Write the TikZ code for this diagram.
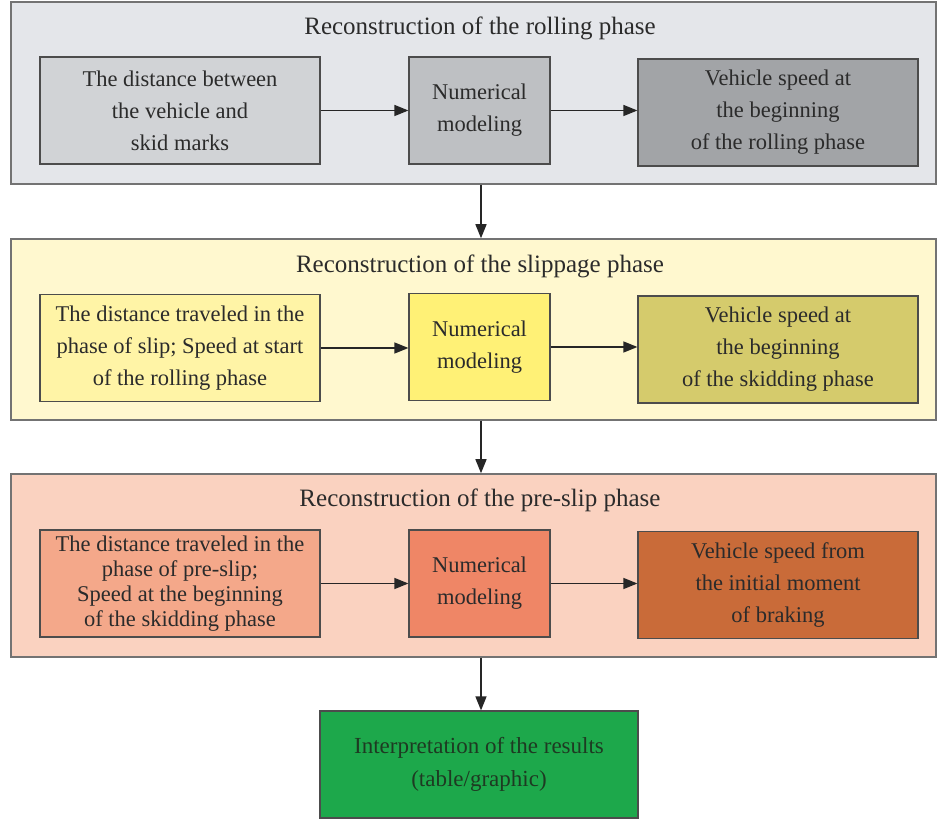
\documentclass[tikz,border=0pt]{standalone}
\usepackage{fontspec}
\setmainfont{Liberation Serif}
\usetikzlibrary{arrows.meta}
\definecolor{txt}{HTML}{2B2B2B}
\definecolor{pA}{HTML}{E4E6EA}
\definecolor{aA}{HTML}{D1D3D6}
\definecolor{aB}{HTML}{BEC0C3}
\definecolor{aC}{HTML}{A2A4A7}
\definecolor{pB}{HTML}{FFF8CF}
\definecolor{bA}{HTML}{FFF4A6}
\definecolor{bB}{HTML}{FFF176}
\definecolor{bC}{HTML}{D5CB6C}
\definecolor{pC}{HTML}{FAD2C0}
\definecolor{cA}{HTML}{F4A88A}
\definecolor{cB}{HTML}{EF8666}
\definecolor{cC}{HTML}{C96B39}
\definecolor{gr}{HTML}{1DA84B}
\definecolor{grt}{HTML}{1E3A22}
\tikzset{
  panel/.style={draw=black!55, line width=1.5pt, inner sep=0pt},
  wide/.style={draw=black!70, line width=1.2pt, minimum width=280pt, minimum height=107pt, align=center, text=txt, font=\fontsize{22.5}{32}\selectfont, inner sep=0pt},
  narrow/.style={wide, minimum width=141pt},
  ttl/.style={text=txt, font=\fontsize{25}{30}\selectfont},
  arr/.style={draw=black!85, line width=1.4pt, -{Triangle[length=14pt,width=11pt]}}
}
\begin{document}
\begin{tikzpicture}[x=1pt,y=1pt]
\useasboundingbox[fill=white] (0,0) rectangle (938,823);
% panels
\node[panel, fill=pA, minimum width=925pt, minimum height=182pt] (p1) at (473.5,730) {};
\node[panel, fill=pB, minimum width=925pt, minimum height=181pt] (p2) at (473.5,493.5) {};
\node[panel, fill=pC, minimum width=925pt, minimum height=183pt] (p3) at (473.5,257.5) {};
% titles
\node[ttl] (t1) at (480,795) {Reconstruction of the rolling phase};
\node[ttl] (t2) at (480,557) {Reconstruction of the slippage phase};
\node[ttl] (t3) at (480,323) {Reconstruction of the pre-slip phase};
% row 1
\node[wide, fill=aA] (a1) at (180,712.5) {The distance between\\the vehicle and\\skid marks};
\node[narrow, fill=aB] (a2) at (479.5,712.5) {Numerical\\modeling};
\node[wide, fill=aC] (a3) at (778,710.5) {Vehicle speed at\\the beginning\\of the rolling phase};
% row 2
\node[wide, fill=bA] (b1) at (180,475) {The distance traveled in the\\phase of slip; Speed at start\\of the rolling phase};
\node[narrow, fill=bB] (b2) at (479.5,476) {Numerical\\modeling};
\node[wide, fill=bC] (b3) at (778,473.5) {Vehicle speed at\\the beginning\\of the skidding phase};
% row 3
\node[wide, fill=cA, font=\fontsize{22.5}{25}\selectfont] (c1) at (180,239.5) {The distance traveled in the\\phase of pre-slip;\\Speed at the beginning\\of the skidding phase};
\node[narrow, fill=cB] (c2) at (479.5,239.5) {Numerical\\modeling};
\node[wide, fill=cC] (c3) at (778,238) {Vehicle speed from\\the initial moment\\of braking};
% result
\node[wide, fill=gr, text=grt, minimum width=318pt, font=\fontsize{23}{33}\selectfont] (g) at (479,58.5) {Interpretation of the results\\(table/graphic)};
% horizontal arrows
\draw[arr] (a1.east) -- (a1.east -| a2.west);
\draw[arr] (a2.east) -- (a2.east -| a3.west);
\draw[arr] (b1.east) -- (b1.east -| b2.west);
\draw[arr] (b2.east) -- (b2.east -| b3.west);
\draw[arr] (c1.east) -- (c1.east -| c2.west);
\draw[arr] (c2.east) -- (c2.east -| c3.west);
% vertical arrows
\coordinate (vx) at (481,0);
\draw[arr] (vx |- p1.south) -- (vx |- p2.north);
\draw[arr] (vx |- p2.south) -- (vx |- p3.north);
\draw[arr] (vx |- p3.south) -- (vx |- g.north);
\end{tikzpicture}
\end{document}
